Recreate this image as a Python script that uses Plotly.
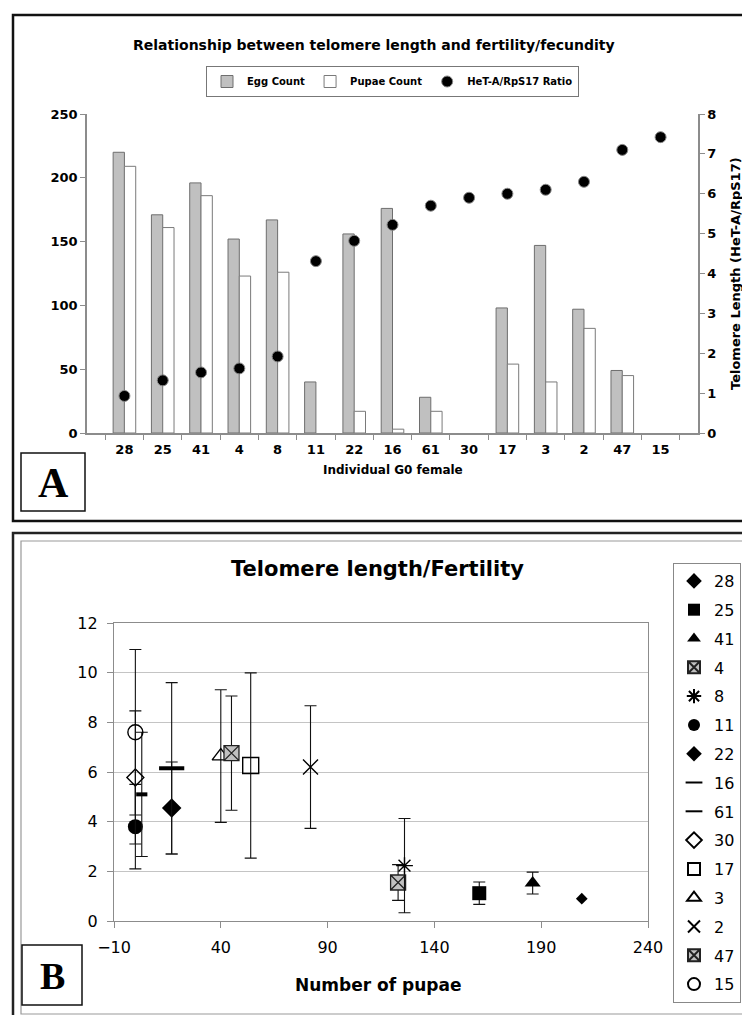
import plotly.graph_objects as go

# ---------------- data ----------------
females = ["28", "25", "41", "4", "8", "11", "22", "16", "61", "30", "17", "3", "2", "47", "15"]
egg_count = [220, 171, 196, 152, 167, 40, 156, 176, 28, 0, 98, 147, 97, 49, 0]
pupae_count = [209, 161, 186, 123, 126, 0, 17, 3, 17, 0, 54, 40, 82, 45, 0]
het_ratio = [0.93, 1.32, 1.52, 1.62, 1.92, 4.31, 4.82, 5.22, 5.7, 5.9, 6.0, 6.1, 6.3, 7.1, 7.42]

# panel B: pupae vs telomere length (mean +/- error)
b_labels = ["28", "25", "41", "4", "8", "11", "22", "16", "61", "30", "17", "3", "2", "47", "15"]
b_pupae = [209, 161, 186, 123, 126, 0, 17, 3, 17, 0, 54, 40, 82, 45, 0]
b_telomere = [0.9, 1.12, 1.53, 1.55, 2.23, 3.8, 4.55, 5.1, 6.15, 5.78, 6.26, 6.64, 6.2, 6.76, 7.6]
b_error = [0.0, 0.45, 0.44, 0.72, 1.9, 1.7, 1.85, 2.5, 3.45, 2.68, 3.73, 2.67, 2.47, 2.3, 3.33]
b_symbols = ["diamond", "square", "triangle-up", "square-x", "asterisk-open", "circle", "diamond",
             "line-ew-open", "line-ew-open", "diamond-open", "square-open", "triangle-up-open",
             "x-thin-open", "square-x", "circle-open"]
b_sizes = [9, 14, 14, 15, 14, 15, 15, 8, 18, 13, 16, 15, 15, 15, 15]

W, H = 750, 1015
def px(x):
    return x / W
def py(y):
    return 1 - y / H

FONT = "DejaVu Sans"
GRAY_AX = "#8c8c8c"

fig = go.Figure()

# ---------------- panel A ----------------
fig.add_trace(go.Bar(x=females, y=egg_count, name="Egg Count",
                     marker=dict(color="#c0c0c0",
                                 line=dict(color="#6e6e6e", width=[1 if v > 0 else 0 for v in egg_count])),
                     xaxis="x", yaxis="y", legend="legend"))
fig.add_trace(go.Bar(x=females, y=pupae_count, name="Pupae Count",
                     marker=dict(color="white",
                                 line=dict(color="#7a7a7a", width=[1 if v > 0 else 0 for v in pupae_count])),
                     xaxis="x", yaxis="y", legend="legend"))
fig.add_trace(go.Scatter(x=females, y=het_ratio, name="HeT-A/RpS17 Ratio", mode="markers",
                         marker=dict(color="black", size=11, line=dict(color="#888", width=1)),
                         xaxis="x", yaxis="y2", legend="legend"))

# ---------------- panel B ----------------
for i, lab in enumerate(b_labels):
    sym = b_symbols[i]
    if sym == "square-x":
        marker = dict(symbol=sym, size=b_sizes[i], color="#c0c0c0",
                      line=dict(color="#222", width=1.3))
    elif sym.endswith("-open"):
        lw = 4 if sym.startswith("line-ew") else 1.4
        marker = dict(symbol=sym, size=b_sizes[i], color="black", line=dict(color="black", width=lw))
    else:
        marker = dict(symbol=sym, size=b_sizes[i], color="black", line=dict(width=0))
    fig.add_trace(go.Scatter(
        x=[b_pupae[i]], y=[b_telomere[i]], name=lab, mode="markers",
        marker=marker,
        error_y=dict(type="data", array=[b_error[i]], visible=b_error[i] > 0,
                     color="#111", thickness=1.1, width=6),
        xaxis="x2", yaxis="y3", legend="legend2", legendgroup="g" + lab))

# ---------------- layout ----------------
axis_font_b = dict(family=FONT, size=13, color="black", weight="bold")
fig.update_layout(
    width=W, height=H, margin=dict(l=0, r=0, t=0, b=0, pad=0, autoexpand=False), autosize=False,
    paper_bgcolor="white", plot_bgcolor="white",
    font=dict(family=FONT, color="black"),
    barmode="group", bargap=0.41, bargroupgap=0.0,
    xaxis=dict(domain=[px(79), px(690)], anchor="y", type="category", automargin=False,
               showline=True, linecolor=GRAY_AX, linewidth=1.5,
               ticks="outside", tickson="boundaries", ticklen=5, tickcolor=GRAY_AX,
               tickfont=axis_font_b, ticklabelstandoff=4, showgrid=False, zeroline=False),
    yaxis=dict(domain=[py(425), py(106)], anchor="x", range=[0, 250], dtick=50, automargin=False,
               showline=True, linecolor=GRAY_AX, linewidth=1.5,
               ticks="outside", ticklen=5, tickcolor=GRAY_AX,
               tickfont=axis_font_b, showgrid=False, zeroline=False),
    yaxis2=dict(overlaying="y", side="right", anchor="x", range=[0, 8], dtick=1, automargin=False,
                showline=True, linecolor=GRAY_AX, linewidth=1.5,
                ticks="outside", ticklen=5, tickcolor=GRAY_AX,
                tickfont=axis_font_b, showgrid=False, zeroline=False),
    xaxis2=dict(domain=[px(106), px(640)], anchor="y3", range=[-10, 240], tick0=-10, dtick=50,
                automargin=False,
                showline=True, linecolor=GRAY_AX, linewidth=1.2, mirror=True,
                ticks="outside", ticklen=6, tickcolor=GRAY_AX,
                tickfont=dict(family=FONT, size=16, color="black"), ticklabelstandoff=6,
                showgrid=False, zeroline=False),
    yaxis3=dict(domain=[py(913), py(615)], anchor="x2", range=[0, 12], dtick=2, automargin=False,
                showline=True, linecolor=GRAY_AX, linewidth=1.2, mirror=True,
                ticks="outside", ticklen=6, tickcolor=GRAY_AX,
                tickfont=dict(family=FONT, size=16, color="black"), ticklabelstandoff=6,
                showgrid=True, gridcolor="#c4c4c4", gridwidth=1.2, zeroline=False),
    legend=dict(orientation="h", x=px(198), y=py(58), xanchor="left", yanchor="top",
                bordercolor="#777", borderwidth=1, bgcolor="white",
                font=dict(family=FONT, size=10, color="black", weight="bold"),
                itemwidth=30, tracegroupgap=0),
    legend2=dict(orientation="v", x=px(665), y=py(555), xanchor="left", yanchor="top",
                 bordercolor="#888", borderwidth=1, bgcolor="white",
                 font=dict(family=FONT, size=16, color="black"), itemsizing="constant",
                 itemwidth=30, tracegroupgap=5, traceorder="grouped"),
)

def note(text, x, y, size, family=FONT, angle=0):
    return dict(text=text, x=px(x), y=py(y), xref="paper", yref="paper", showarrow=False,
                xanchor="center", yanchor="middle", textangle=angle,
                font=dict(family=family, size=size, color="black"))

ann = [
    note("<b>Relationship between telomere length and fertility/fecundity</b>", 366, 37, 14),
    note("<b>Individual G0 female</b>", 385, 462, 12),
    note("<b>Telomere Length (HeT-A/RpS17)</b>", 727, 266, 13, angle=-90),
    note("<b>A</b>", 45, 475, 42, family="Liberation Serif"),
    note("<b>Telomere length/Fertility</b>", 369, 561, 21),
    note("<b>Number of pupae</b>", 370, 977, 17),
    note("<b>B</b>", 44, 968, 38, family="Liberation Serif"),
]
fig.update_layout(annotations=ann)

shapes = [
    dict(type="rect", xref="paper", yref="paper", x0=px(5), x1=px(746), y0=py(513), y1=py(7),
         line=dict(color="#111", width=2.5)),
    dict(type="rect", xref="paper", yref="paper", x0=px(13), x1=px(77), y0=py(503), y1=py(445),
         line=dict(color="#111", width=1.5)),
    dict(type="rect", xref="paper", yref="paper", x0=px(5), x1=px(744), y0=py(1012), y1=py(525),
         line=dict(color="#222", width=2.5)),
    dict(type="rect", xref="paper", yref="paper", x0=px(13), x1=px(737), y0=py(1006), y1=py(533),
         line=dict(color="#999", width=1.2)),
    dict(type="rect", xref="paper", yref="paper", x0=px(14), x1=px(74), y0=py(997), y1=py(937),
         line=dict(color="#111", width=1.5)),
]
fig.update_layout(shapes=shapes)

fig.write_html("out.html")
